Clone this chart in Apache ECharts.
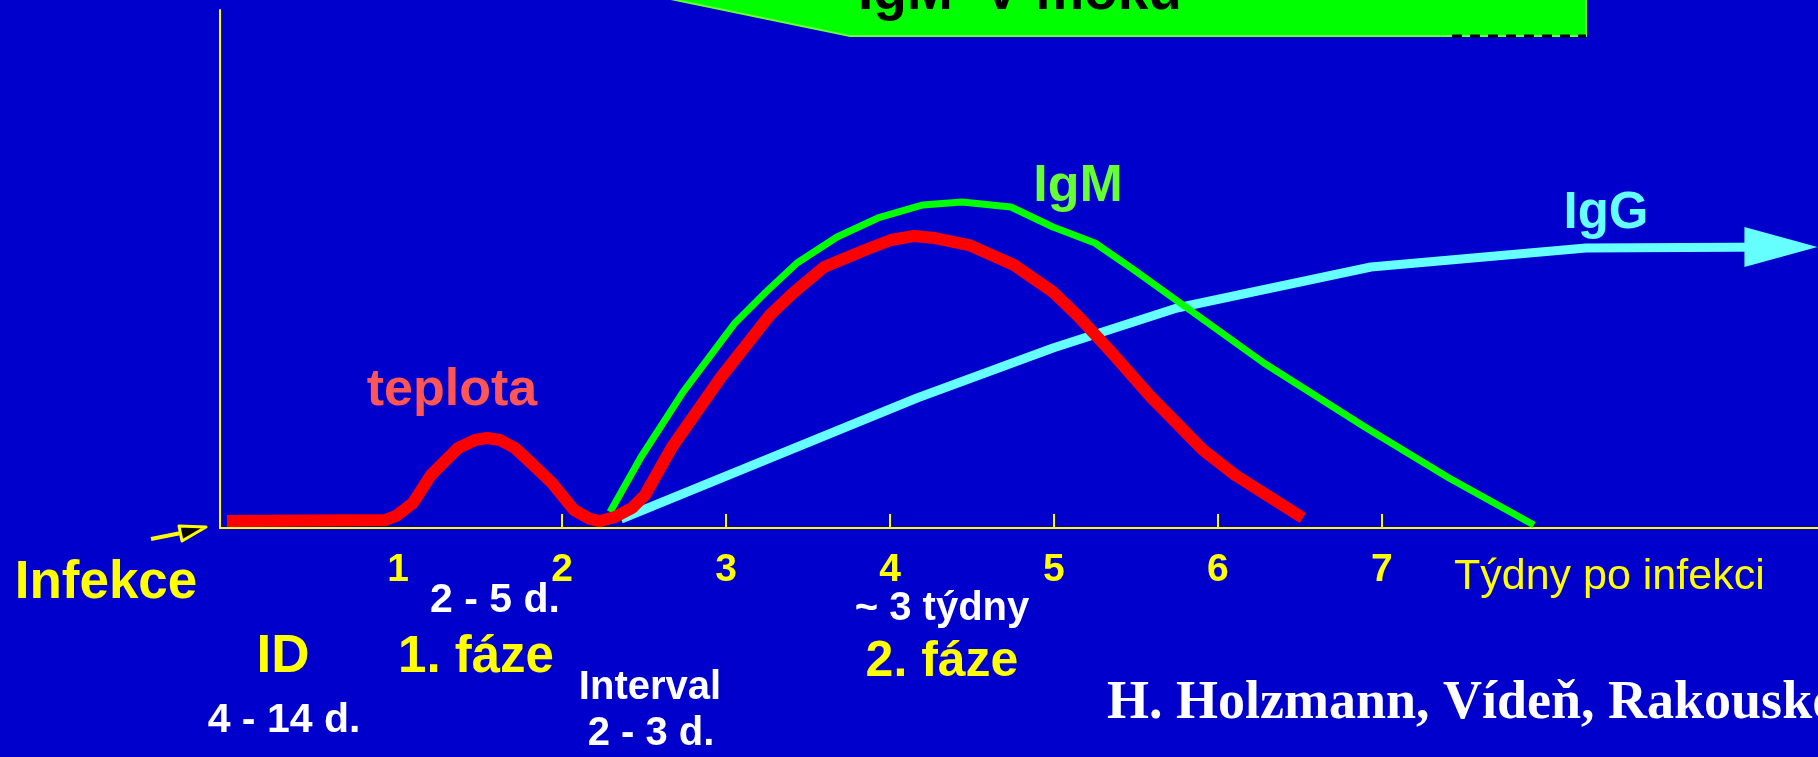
<!DOCTYPE html>
<html><head><meta charset="utf-8">
<script src="https://cdn.jsdelivr.net/npm/echarts@6/dist/echarts.min.js"></script>
<style>html,body{margin:0;padding:0;background:#0000CC;overflow:hidden}#c{width:1818px;height:757px;}</style>
</head><body><div id="c"></div>
<script>
// tick labels (weeks after infection)
const tickLabelWeeks = [1, 2, 3, 4, 5, 6, 7];
const tickMarkWeeks = [2, 3, 4, 5, 6, 7];
// [week, relative level 0..100]
const teplota = [
  [-0.043, 1.35], [0.921, 1.54], [0.988, 2.32], [1.091, 4.83], [1.201, 10.23], [1.366, 15.44],
  [1.470, 16.99], [1.543, 17.37], [1.622, 16.99], [1.713, 15.44], [1.805, 12.74], [1.939, 8.69],
  [2.073, 3.47], [2.171, 1.74], [2.232, 1.35], [2.323, 2.12], [2.427, 3.86], [2.506, 6.37],
  [2.671, 15.64], [2.970, 29.15], [3.268, 41.12], [3.409, 45.37], [3.598, 50.39], [3.848, 53.67],
  [4.006, 55.60], [4.146, 56.37], [4.274, 55.98], [4.482, 54.63], [4.756, 50.77], [4.994, 45.56],
  [5.152, 40.73], [5.354, 33.78], [5.591, 25.29], [5.909, 15.06], [6.104, 10.23], [6.518, 1.93]
];
const igm = [
  [2.293, 3.09], [2.482, 13.71], [2.738, 26.25], [3.055, 39.58], [3.244, 45.56], [3.433, 51.16],
  [3.677, 56.18], [3.927, 59.85], [4.201, 62.36], [4.439, 62.93], [4.738, 61.97], [4.994, 58.11],
  [5.250, 55.02], [5.488, 49.81], [5.829, 42.08], [6.280, 31.85], [6.896, 19.50], [7.409, 9.65],
  [7.927, 0.58]
];
const igg = [
  [2.360, 1.74], [4.165, 25.10], [4.994, 34.75], [5.750, 42.47], [6.933, 50.39], [8.244, 54.05],
  [9.433, 54.25]
];

const SANS = '"Liberation Sans", Arial, sans-serif';
const SERIF = '"Liberation Serif", "Times New Roman", serif';

function txt(text, x, baseline, size, color, opts) {
  opts = opts || {};
  const weight = opts.weight || 'bold';
  const family = opts.family || SANS;
  const align = opts.align || 'center';
  const k = family === SERIF ? 0.3375 : 0.3465;
  return {
    type: 'text', z: 10,
    style: {
      text: text, x: x, y: baseline - k * size,
      font: weight + ' ' + size + 'px ' + family,
      fill: color, align: align, verticalAlign: 'middle',
      textAlign: align, textVerticalAlign: 'middle'
    }
  };
}

const chart = echarts.init(document.getElementById('c'), null, { renderer: 'canvas' });

const iggData = igg.map((p, i) => i === igg.length - 1
  ? { value: p, symbol: 'triangle', symbolSize: [40, 73], symbolRotate: -90, itemStyle: { color: '#66FFFF' } }
  : { value: p });

chart.setOption({
  animation: false,
  backgroundColor: '#0000CC',
  grid: { left: 220, right: 0, top: 10, bottom: 229, containLabel: false, outerBoundsMode: 'none' },
  xAxis: {
    type: 'value', min: -0.0854, max: 9.659,
    axisLine: { show: true, onZero: false, lineStyle: { color: '#FFFF00', width: 2 } },
    axisTick: { show: true, inside: true, length: 14, customValues: tickMarkWeeks, lineStyle: { color: '#FFFF00', width: 2 } },
    axisLabel: {
      show: true, customValues: tickLabelWeeks, color: '#FFFF00',
      fontFamily: SANS, fontWeight: 'bold', fontSize: 39, margin: 23
    },
    splitLine: { show: false }
  },
  yAxis: {
    type: 'value', min: 0, max: 100,
    axisLine: { show: true, onZero: false, lineStyle: { color: '#FFFF00', width: 2 } },
    axisTick: { show: false }, axisLabel: { show: false }, splitLine: { show: false }
  },
  series: [
    {
      name: 'IgG', type: 'line', data: iggData, symbol: 'none', showSymbol: true, z: 2,
      lineStyle: { color: '#66FFFF', width: 9, join: 'round' }, itemStyle: { color: '#66FFFF' },
      emphasis: { disabled: true }
    },
    {
      name: 'IgM', type: 'line', data: igm, symbol: 'none', showSymbol: false, z: 3,
      lineStyle: { color: '#00FF00', width: 7, join: 'round' },
      emphasis: { disabled: true }
    },
    {
      name: 'teplota', type: 'line', data: teplota, symbol: 'none', showSymbol: false, z: 4,
      lineStyle: { color: '#FF0000', width: 12, join: 'round' },
      emphasis: { disabled: true }
    }
  ],
  graphic: [
    { type: 'polygon', z: 5, shape: { points: [[661, -3], [850, 36], [1586, 36], [1586, -3]] },
      style: { fill: '#00FF00', stroke: '#66FF33', lineWidth: 2 } },
    { type: 'line', z: 6, shape: { x1: 1452, y1: 36, x2: 1586, y2: 36 },
      style: { stroke: '#000000', lineWidth: 3, lineDash: [10, 8] } },
    txt('IgM  V moku', 858, 13, 55, '#000000', { align: 'left' }),
    // small "Infekce" arrow
    { type: 'line', z: 6, shape: { x1: 151, y1: 539, x2: 181, y2: 533 },
      style: { stroke: '#FFFF00', lineWidth: 4 } },
    { type: 'polygon', z: 6, shape: { points: [[179, 526], [182, 541], [206, 527]] },
      style: { fill: '#000000', stroke: '#FFFF00', lineWidth: 3, lineJoin: 'round' } },
    txt('teplota', 452, 409, 52, '#FF5555'),
    txt('IgM', 1078, 205, 52, '#66FF33'),
    txt('IgG', 1606, 232, 51, '#66FFFF'),
    txt('Infekce', 106, 602, 53, '#FFFF00'),
    txt('2 - 5 d.', 495, 615, 41, '#FFFFFF'),
    txt('ID', 283, 676, 53, '#FFFF00'),
    txt('1. fáze', 476, 676, 51, '#FFFF00'),
    txt('4 - 14 d.', 284, 735, 41, '#FFFFFF'),
    txt('Interval', 650, 702, 40, '#FFFFFF'),
    txt('2 - 3 d.', 651, 748, 40, '#FFFFFF'),
    txt('~ 3 týdny', 942, 623, 40, '#FFFFFF'),
    txt('2. fáze', 942, 680, 50, '#FFFF00'),
    txt('Týdny po infekci', 1454, 592, 43, '#FFFF00', { weight: 'normal', align: 'left' }),
    txt('H. Holzmann, Vídeň, Rakousko', 1107, 722, 54, '#FFFFFF', { family: SERIF, align: 'left' })
  ]
});
</script>
</body></html>
